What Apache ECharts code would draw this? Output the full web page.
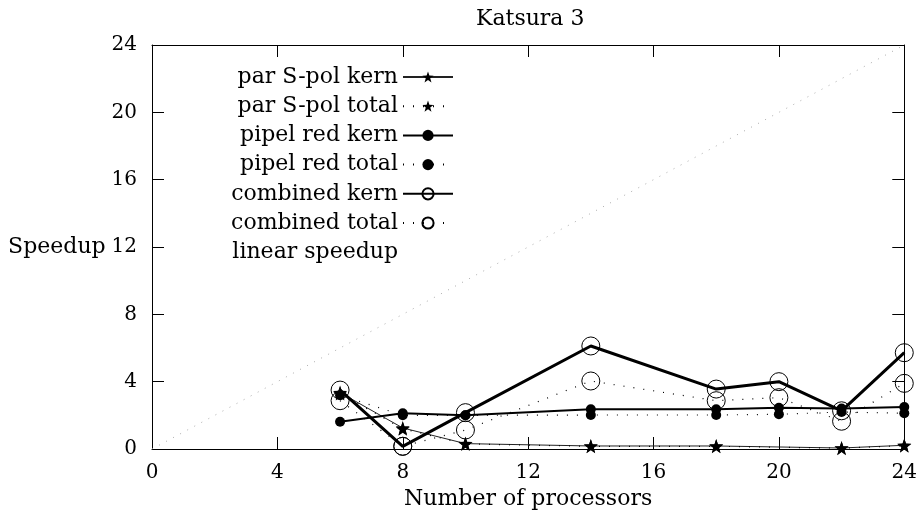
<!DOCTYPE html>
<html>
<head>
<meta charset="utf-8">
<script src="https://cdn.jsdelivr.net/npm/echarts@6/dist/echarts.min.js"></script>
<style>html,body{margin:0;padding:0;background:#fff;}#c{width:920px;height:523px;}</style>
</head>
<body>
<div id="c"></div>
<script>
// ---- data ----
const titleText = 'Katsura 3';
const xTicks = [0, 4, 8, 12, 16, 20, 24];
const yTicks = [0, 4, 8, 12, 16, 20, 24];
const procsAll = [6, 8, 10, 14, 18, 20, 22, 24];
const procsSpol = [6, 8, 10, 14, 18, 22, 24];
const spolKern = [3.35, 1.25, 0.32, 0.18, 0.18, 0.06, 0.22];
const spolTotal = [3.3, 1.2, 0.3, 0.16, 0.16, 0.05, 0.2];
const pipelKern = [1.62, 2.12, 2.0, 2.36, 2.36, 2.45, 2.4, 2.5];
const pipelTotal = [3.2, 2.0, 2.0, 2.02, 2.02, 2.06, 2.2, 2.12];
const combKern = [3.5, 0.16, 2.16, 6.12, 3.56, 4.0, 2.27, 5.72];
const combTotal = [2.87, 0.16, 1.13, 4.04, 2.87, 3.05, 1.65, 3.9];
const linearX = [0, 24];
const linearY = [0, 24];
const seriesNames = ['par S-pol kern', 'par S-pol total', 'pipel red kern', 'pipel red total', 'combined kern', 'combined total', 'linear speedup'];

const pair = (xs, ys) => xs.map((x, i) => [x, ys[i]]);
const star = 'path://M0,-10 L2.35,-3.24 L9.51,-3.09 L3.8,1.24 L5.88,8.09 L0,4 L-5.88,8.09 L-3.8,1.24 L-9.51,-3.09 L-2.35,-3.24 Z';
const font = 'DejaVu Serif';
const dots = [1, 9];

const chart = echarts.init(document.getElementById('c'), null, {renderer: 'canvas'});
const axisCommon = {
  type: 'value', min: 0, max: 24, interval: 4,
  axisLine: {show: true, onZero: false, lineStyle: {color: '#000', width: 1}},
  axisTick: {show: true, inside: true, length: 12, lineStyle: {color: '#000', width: 1}},
  splitLine: {show: false}
};
const openCircle = {color: 'rgba(0,0,0,0)', borderColor: '#000', borderWidth: 1};
chart.setOption({
  animation: false,
  backgroundColor: '#fff',
  title: {text: titleText, left: 471, top: 3,
    textStyle: {fontFamily: font, fontSize: 22, fontWeight: 'normal', color: '#000'}},
  grid: {left: 152, right: 15, top: 45, bottom: 74, containLabel: false},
  legend: {
    orient: 'vertical', align: 'right', left: 218, top: 66, padding: 0,
    itemWidth: 50, itemHeight: 14, itemGap: 7.2,
    data: seriesNames.slice(0, 6).map(n => ({name: n})).concat([{name: seriesNames[6], icon: 'path://M0,0 L1,0 L1,1 L0,1 Z', itemStyle: {opacity: 0}}]),
    textStyle: {fontFamily: font, fontSize: 22, color: '#000', width: 180, align: 'right', lineHeight: 22}
  },
  xAxis: [
    Object.assign({}, axisCommon, {position: 'bottom',
      name: 'Number of processors', nameLocation: 'middle', nameGap: 34,
      nameTextStyle: {fontFamily: font, fontSize: 22, color: '#000'},
      axisLabel: {fontFamily: font, fontSize: 20, color: '#000', margin: 14}}),
    Object.assign({}, axisCommon, {position: 'top', axisLabel: {show: false}})
  ],
  yAxis: [
    Object.assign({}, axisCommon, {position: 'left',
      name: 'Speedup', nameLocation: 'middle', nameRotate: 0, nameGap: 41,
      nameTextStyle: {fontFamily: font, fontSize: 22, color: '#000'},
      axisLabel: {fontFamily: font, fontSize: 20, color: '#000', margin: 15}}),
    Object.assign({}, axisCommon, {position: 'right', axisLabel: {show: false}})
  ],
  series: [
    {name: seriesNames[0], type: 'line', data: pair(procsSpol, spolKern),
      symbol: star, symbolSize: 14,
      lineStyle: {color: '#222', width: 1}, itemStyle: {color: '#000'}},
    {name: seriesNames[1], type: 'line', data: pair(procsSpol, spolTotal),
      symbol: star, symbolSize: 14,
      lineStyle: {color: '#000', width: 1.2, type: dots}, itemStyle: {color: '#000'}},
    {name: seriesNames[2], type: 'line', data: pair(procsAll, pipelKern),
      symbol: 'circle', symbolSize: 10,
      lineStyle: {color: '#000', width: 2}, itemStyle: {color: '#000'}},
    {name: seriesNames[3], type: 'line', data: pair(procsAll, pipelTotal),
      symbol: 'circle', symbolSize: 10,
      lineStyle: {color: '#000', width: 1.2, type: dots}, itemStyle: {color: '#000'}},
    {name: seriesNames[4], type: 'line', data: pair(procsAll, combKern),
      symbol: 'circle', symbolSize: 18,
      lineStyle: {color: '#000', width: 3}, itemStyle: openCircle},
    {name: seriesNames[5], type: 'line', data: pair(procsAll, combTotal),
      symbol: 'circle', symbolSize: 18,
      lineStyle: {color: '#000', width: 1.2, type: dots}, itemStyle: openCircle},
    {name: seriesNames[6], type: 'line', data: pair(linearX, linearY),
      symbol: 'none',
      lineStyle: {color: '#aaa', width: 1, type: [1, 7]}, itemStyle: {color: '#aaa'}}
  ]
});
</script>
</body>
</html>
